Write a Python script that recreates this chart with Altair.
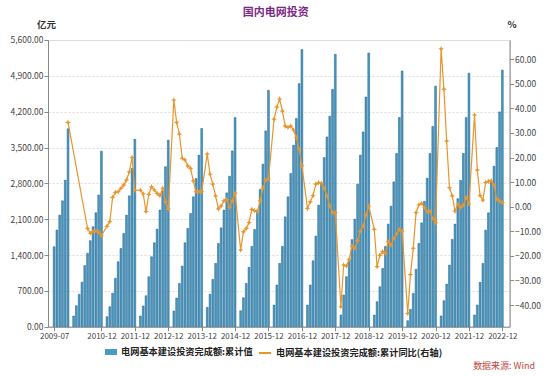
import altair as alt
import pandas as pd

# ---------------- data ----------------
# cumulative investment, 亿元 ; 2009 starts in July, later years Feb..Dec
cum_2009 = [1561, 1887, 2180, 2459, 2862, 3866]
cum_2010 = [209, 410, 633, 869, 1194, 1435, 1680, 1953, 2225, 2570, 3427]
cum_2011 = [195, 390, 652, 945, 1269, 1529, 1822, 2179, 2556, 3091, 3662]
cum_2012 = [209, 404, 605, 976, 1366, 1639, 1906, 2277, 2650, 3124, 3643]
cum_2013 = [306, 560, 845, 1184, 1639, 1920, 2212, 2536, 2895, 3350, 3871]
cum_2014 = [378, 635, 924, 1236, 1626, 1931, 2277, 2614, 2940, 3434, 4085]
cum_2015 = [312, 566, 845, 1159, 1568, 1900, 2277, 2680, 3175, 3824, 4618]
cum_2016 = [423, 814, 1236, 1568, 2146, 2536, 2993, 3545, 4066, 4748, 5413]
cum_2017 = [423, 814, 1288, 1770, 2374, 2784, 3304, 3707, 4111, 4637, 5320]
cum_2018 = [228, 618, 976, 1300, 1700, 2100, 2784, 3350, 3805, 4487, 5346]
cum_2019 = [228, 488, 780, 1139, 1568, 2004, 2355, 2829, 3385, 4085, 4995]
cum_2020 = [117, 339, 652, 1120, 1626, 2029, 2450, 2900, 3385, 3912, 4699]
cum_2021 = [209, 507, 833, 1204, 1705, 2004, 2500, 2860, 3385, 4085, 4951]
cum_2022 = [228, 423, 866, 1237, 1887, 2225, 2829, 3135, 3500, 4195, 5012]

# cumulative YoY, % ; 2009 only December, 2010 Jul..Dec, later years Feb..Dec
yoy_2009 = [34.3]
yoy_2010 = [-8.8, -10.8, -10.0, -9.8, -10.3, -11.8]
yoy_2011 = [-7.9, -6.1, 3.8, 5.8, 6.1, 7.5, 8.8, 10.9, 14.2, 20.0, 6.7]
yoy_2012 = [6.7, 5.2, -2.0, 5.0, 8.1, 6.8, 5.4, 4.5, 7.5, 2.0, -0.9]
yoy_2013 = [43.4, 34.3, 29.5, 19.7, 19.0, 16.6, 15.6, 10.5, 6.1, 6.1, 6.1]
yoy_2014 = [21.4, 13.2, 9.2, 4.4, -0.9, 0.3, 2.4, 3.0, -0.3, 2.4, 5.5]
yoy_2015 = [-17.6, -10.2, -8.8, -6.5, -1.1, -1.6, -2.0, 2.4, 7.5, 10.9, 11.3]
yoy_2016 = [35.6, 40.5, 43.8, 38.9, 32.8, 32.3, 32.8, 31.2, 28.2, 23.5, 16.7]
yoy_2017 = [-0.7, 2.0, 4.5, 9.2, 9.8, 9.5, 7.5, 4.4, 0.3, -2.4, -2.4]
yoy_2018 = [-40.7, -23.7, -24.1, -21.4, -16.0, -16.9, -13.8, -9.9, -7.9, -3.4, 0.3]
yoy_2019 = [-9.2, -24.4, -19.7, -18.3, -19.0, -14.2, -15.6, -12.9, -11.1, -9.2, -9.9]
yoy_2020 = [-43.4, -27.6, -16.9, -2.4, 0.7, 1.4, -0.4, -2.0, -1.8, -4.8, -6.5]
yoy_2021 = [64.2, 47.8, 26.7, 7.7, 4.4, -1.8, 1.1, -0.3, 0.7, 3.7, 1.1]
yoy_2022 = [37.3, 14.9, 4.5, 2.7, 9.8, 10.3, 10.5, 8.8, 3.0, 2.3, 1.6]

x_tick_values = [0, 17, 29, 41, 53, 65, 77, 89, 101, 113, 125, 137, 149, 161]
x_tick_labels = ["2009-07", "2010-12", "2011-12", "2012-12", "2013-12", "2014-12",
                 "2015-12", "2016-12", "2017-12", "2018-12", "2019-12", "2020-12",
                 "2021-12", "2022-12"]
left_ticks = [0, 700, 1400, 2100, 2800, 3500, 4200, 4900, 5600]
right_ticks = [-40, -30, -20, -10, 0, 10, 20, 30, 40, 50, 60]

bar_name = "电网基本建设投资完成额:累计值"
line_name = "电网基本建设投资完成额:累计同比(右轴)"

cum_years = {2009: cum_2009, 2010: cum_2010, 2011: cum_2011, 2012: cum_2012,
             2013: cum_2013, 2014: cum_2014, 2015: cum_2015, 2016: cum_2016,
             2017: cum_2017, 2018: cum_2018, 2019: cum_2019, 2020: cum_2020,
             2021: cum_2021, 2022: cum_2022}
yoy_years = {2009: yoy_2009, 2010: yoy_2010, 2011: yoy_2011, 2012: yoy_2012,
             2013: yoy_2013, 2014: yoy_2014, 2015: yoy_2015, 2016: yoy_2016,
             2017: yoy_2017, 2018: yoy_2018, 2019: yoy_2019, 2020: yoy_2020,
             2021: yoy_2021, 2022: yoy_2022}


def rows(series_by_year, name):
    out = []
    for y, vals in series_by_year.items():
        start = 12 - len(vals) + 1
        for i, v in enumerate(vals):
            m = start + i
            out.append({"t": (y - 2009) * 12 + m - 7, "v": v, "s": name})
    return out


df_bar = pd.DataFrame(rows(cum_years, bar_name))
df_line = pd.DataFrame(rows(yoy_years, line_name))

FONT = "Noto Sans CJK SC"
TEAL = "#2A78A3"
ORANGE = "#E8952C"

label_expr = ("[" + ",".join("'" + s + "'" for s in x_tick_labels) + "][indexof(["
              + ",".join(str(v) for v in x_tick_values) + "], datum.value)]")

x_axis = alt.Axis(values=x_tick_values, labelExpr=label_expr, title=None,
                  grid=False, labelFontSize=8, labelColor="#444",
                  tickSize=4, labelPadding=2, domainColor="#888",
                  tickColor="#888", labelFont=FONT, labelFlush=False,
                  labelOverlap=False, labelSeparation=0)
x_scale = alt.Scale(domain=[-0.4, 161.8], nice=False, zero=False)

bars = alt.Chart(df_bar).mark_bar(size=1.8, stroke="#1B5E86", strokeWidth=0.5).encode(
    x=alt.X("t:Q", scale=x_scale, axis=x_axis),
    y=alt.Y("v:Q",
            scale=alt.Scale(domain=[0, 5600], nice=False),
            axis=alt.Axis(values=left_ticks, format=",.2f", title="亿元",
                          titleAngle=0, titleX=-2, titleY=-15, titleAlign="center",
                          titleBaseline="middle", titleFontSize=9.5,
                          titleFontWeight="bold", titleColor="#333", titleFont=FONT,
                          grid=True, gridDash=[2, 2], gridColor="#dddddd",
                          labelFontSize=8.5, labelColor="#444", labelFont=FONT,
                          tickSize=4, labelPadding=1, domainColor="#888",
                          tickColor="#888")),
    color=alt.Color("s:N", scale=alt.Scale(range=["#4A9BC5"]),
                    legend=alt.Legend(orient="none", legendX=57, legendY=306,
                                      title=None, symbolType="M-1,-0.5L1,-0.5L1,0.5L-1,0.5Z",
                                      symbolSize=144, symbolFillColor=TEAL,
                                      symbolStrokeColor=TEAL, symbolStrokeWidth=0,
                                      labelFontSize=9.2, labelFontWeight="bold",
                                      labelColor="#222", labelFont=FONT, labelLimit=400)),
)

right_y_axis = alt.Axis(orient="right", values=right_ticks, format=".2f", title="%",
                        titleAngle=0, titleX=2, titleY=-15, titleAlign="center",
                        titleBaseline="middle", titleFontSize=9.5,
                        titleFontWeight="bold", titleColor="#333", titleFont=FONT,
                        grid=False, labelFontSize=8.5, labelColor="#444",
                        labelFont=FONT, tickSize=4, labelPadding=1,
                        domainColor="#888", tickColor="#888")
right_scale = alt.Scale(domain=[-48.8, 67.8], nice=False, zero=False)

line = alt.Chart(df_line).mark_line(strokeWidth=1.2).encode(
    x=alt.X("t:Q", scale=x_scale, axis=x_axis),
    y=alt.Y("v:Q", scale=right_scale, axis=right_y_axis),
    color=alt.Color("s:N", scale=alt.Scale(range=[ORANGE]),
                    legend=alt.Legend(orient="none", legendX=210, legendY=306,
                                      title=None, symbolType="stroke", symbolSize=144,
                                      symbolStrokeWidth=2,
                                      labelFontSize=9.2, labelFontWeight="bold",
                                      labelColor="#222", labelFont=FONT, labelLimit=400)),
)

points = alt.Chart(df_line).mark_point(
    shape="M0,-1L0.3,-0.3L1,0L0.3,0.3L0,1L-0.3,0.3L-1,0L-0.3,-0.3Z",
    filled=True, size=32, color=ORANGE, opacity=1).encode(
    x=alt.X("t:Q", scale=x_scale, axis=x_axis),
    y=alt.Y("v:Q", scale=right_scale, axis=right_y_axis),
)

source = alt.Chart(pd.DataFrame({"txt": ["数据来源: Wind"]})).mark_text(
    align="right", baseline="middle", fontSize=9, color="#C0463C", font=FONT).encode(
    x=alt.value(487), y=alt.value(326), text="txt:N")

right_layer = alt.layer(line, points)

chart = alt.layer(bars, right_layer, source).resolve_scale(
    y="independent", color="independent").properties(
    width=461.6, height=286.7,
    autosize=alt.AutoSizeParams(type="none"),
    padding={"left": 48, "top": 40, "right": 40, "bottom": 49},
    title=alt.Title("国内电网投资", color="#7A2A86", fontSize=11, fontWeight="bold",
                    anchor="middle", offset=2, font=FONT, dx=-3),
).configure_view(stroke=None).configure(background="white").configure_axisX(
    labelOverlap=False)

chart.save("out.html", embed_options={"renderer": "svg", "actions": False})
